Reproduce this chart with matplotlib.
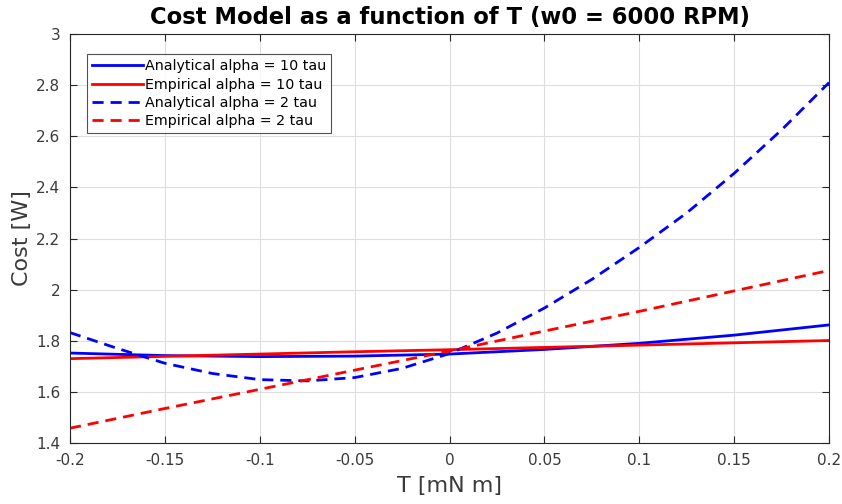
import matplotlib
matplotlib.use("Agg")
import matplotlib.pyplot as plt
import numpy as np

plt.rcParams['font.family'] = ['DejaVu Sans']
plt.rcParams['axes.unicode_minus'] = False

#----------------- DONNEES -----------------#
T = [-0.2, -0.15, -0.1, -0.05, 0.0, 0.05, 0.1, 0.15, 0.2]

ana_10 = [1.752, 1.742, 1.738, 1.740, 1.748, 1.766, 1.790, 1.822, 1.862]
emp_10 = [1.730, 1.739, 1.748, 1.757, 1.765, 1.774, 1.783, 1.792, 1.801]

T_fin = [-0.2, -0.175, -0.15, -0.125, -0.1, -0.075, -0.05, -0.025, 0.0,
         0.025, 0.05, 0.075, 0.1, 0.125, 0.15, 0.175, 0.2]
ana_2 = [1.832, 1.770, 1.712, 1.672, 1.648, 1.643, 1.656, 1.692, 1.750,
         1.830, 1.928, 2.040, 2.165, 2.300, 2.455, 2.625, 2.810]
emp_2 = [1.458, 1.535, 1.610, 1.685, 1.760, 1.838, 1.915, 1.995, 2.075]

xticks = [-0.2, -0.15, -0.1, -0.05, 0, 0.05, 0.1, 0.15, 0.2]
xlabels = ["-0.2", "-0.15", "-0.1", "-0.05", "0", "0.05", "0.1", "0.15", "0.2"]
yticks = [1.4, 1.6, 1.8, 2.0, 2.2, 2.4, 2.6, 2.8, 3.0]
ylabels = ["1.4", "1.6", "1.8", "2", "2.2", "2.4", "2.6", "2.8", "3"]

#----------------- FIGURE -----------------#
fig = plt.figure(figsize=(8.42, 5.04), dpi=100)
ax = fig.add_axes([0.0831, 0.121, 0.9015, 0.8115])

lw = 2.0
tirets = (0, (4.0, 2.5))
ax.plot(T, ana_10, color=(0, 0, 1), lw=lw, label="Analytical alpha = 10 tau")
ax.plot(T, emp_10, color=(1, 0, 0), lw=lw, label="Empirical alpha = 10 tau")
ax.plot(T_fin, ana_2, color=(0, 0, 1), lw=lw, ls=tirets, label="Analytical alpha = 2 tau")
ax.plot(T, emp_2, color=(1, 0, 0), lw=lw, ls=tirets, label="Empirical alpha = 2 tau")

ax.set_xlim(-0.2, 0.2)
ax.set_ylim(1.4, 3.0)
ax.set_xticks(xticks)
ax.set_xticklabels(xlabels)
ax.set_yticks(yticks)
ax.set_yticklabels(ylabels)

gris = "#262626"
ax.grid(True, color="#dedede", lw=0.8)
ax.set_axisbelow(True)
for s in ax.spines.values():
    s.set_color(gris)
    s.set_linewidth(0.8)
ax.tick_params(direction="in", top=True, right=True, length=5, width=0.8,
               colors=gris, labelsize=11, pad=7)
for lab in ax.get_xticklabels() + ax.get_yticklabels():
    lab.set_color("#3a3a3a")

ax.set_xlabel("T [mN m]", fontsize=16, color="#3a3a3a", labelpad=6)
ax.set_ylabel("Cost [W]", fontsize=16, color="#3a3a3a", labelpad=3)
ax.set_title("Cost Model as a function of T (w0 = 6000 RPM)", fontsize=16.3,
             fontweight="bold", pad=7)

leg = ax.legend(loc="upper left", bbox_to_anchor=(0.023, 0.95), fontsize=10.3,
                frameon=True, fancybox=False, handlelength=3.5, handletextpad=0.15,
                borderpad=0.35, labelspacing=0.3, borderaxespad=0)
leg.get_frame().set_edgecolor(gris)
leg.get_frame().set_linewidth(0.8)

fig.savefig("out.png", dpi=100)
